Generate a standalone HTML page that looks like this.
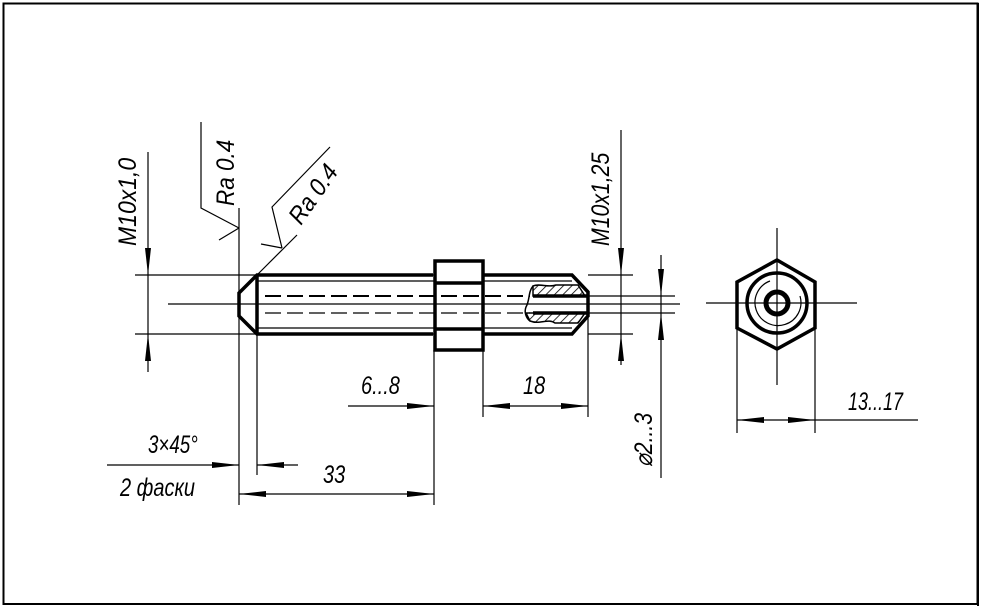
<!DOCTYPE html>
<html><head><meta charset="utf-8"><style>
html,body{margin:0;padding:0;background:#fff}
svg{display:block}
text{font-family:"Liberation Sans",sans-serif;font-style:italic;fill:#000}
</style></head><body>
<svg width="981" height="609" viewBox="0 0 981 609" xmlns="http://www.w3.org/2000/svg">
<defs>
<pattern id="h" patternUnits="userSpaceOnUse" width="6" height="6" patternTransform="rotate(45)">
<line x1="0" y1="0" x2="0" y2="6" stroke="#000" stroke-width="1.6"/>
</pattern>
</defs>
<rect x="3.5" y="3.5" width="974" height="600.5" fill="none" stroke="#000" stroke-width="2"/>
<rect x="977" y="3" width="2" height="603" fill="#000"/>
<rect x="3" y="603" width="976" height="2" fill="#000"/>

<g stroke="#000" fill="none">
<g stroke-width="1.2">
<line x1="135" y1="275" x2="434" y2="275"/>
<line x1="135" y1="334" x2="434" y2="334"/>
<line x1="168" y1="304" x2="680" y2="304"/>
<line x1="257" y1="281" x2="434" y2="281"/>
<line x1="257" y1="328" x2="434" y2="328"/>
<line x1="483" y1="281" x2="572" y2="281"/>
<line x1="483" y1="328" x2="572" y2="328"/>
<line x1="588" y1="275" x2="633" y2="275"/>
<line x1="588" y1="334" x2="633" y2="334"/>
<line x1="588" y1="296" x2="675" y2="296"/>
<line x1="588" y1="313" x2="675" y2="313"/>
<line x1="148" y1="152" x2="148" y2="372"/>
<line x1="621" y1="130" x2="621" y2="365"/>
<line x1="661" y1="255" x2="661" y2="478"/>
<line x1="239" y1="208" x2="239" y2="505"/>
<line x1="257" y1="334" x2="257" y2="475"/>
<line x1="434" y1="350" x2="434" y2="505"/>
<line x1="483" y1="350" x2="483" y2="417"/>
<line x1="588" y1="318" x2="588" y2="417"/>
<polyline points="201,122 201,208 239,228"/>
<line x1="219" y1="240" x2="239" y2="228"/>
<polyline points="330,147 272,207 282,248"/>
<line x1="261" y1="244" x2="282" y2="248"/>
<line x1="257" y1="275" x2="297" y2="235"/>
<line x1="348" y1="406" x2="434" y2="406"/>
<line x1="483" y1="406" x2="588" y2="406"/>
<line x1="107" y1="465" x2="239" y2="465"/>
<line x1="257" y1="465" x2="298" y2="465"/>
<line x1="239" y1="494" x2="434" y2="494"/>
<line x1="706" y1="303" x2="857" y2="303"/>
<line x1="777" y1="228" x2="777" y2="385"/>
<line x1="737" y1="328" x2="737" y2="433"/>
<line x1="815" y1="328" x2="815" y2="433"/>
<line x1="737" y1="420" x2="918" y2="420"/>
<path d="M 800 296 A 23 23 0 1 1 770 281"/>
</g>
<line x1="265" y1="296" x2="530" y2="296" stroke-width="2" stroke-dasharray="16,6"/>
<line x1="265" y1="313" x2="530" y2="313" stroke-width="1.2" stroke-dasharray="16,6"/>
<g stroke-width="3.5">
<polyline points="433,275 257,275 239,293 239,316 257,334 433,334"/>
<line x1="257" y1="275" x2="257" y2="334"/>
<rect x="435" y="261" width="48" height="89"/>
<line x1="435" y1="283" x2="483" y2="283"/>
<line x1="435" y1="329" x2="483" y2="329"/>
<polyline points="483,275 572,275 588,292 588,316 572,334 483,334"/>
<line x1="533" y1="296" x2="588" y2="296"/>
<line x1="533" y1="313" x2="588" y2="313"/>
<polygon points="737,282 777,260 815,282 815,328 777,349 737,328"/>
<circle cx="777" cy="303" r="30"/>
<circle cx="777" cy="303" r="11" stroke-width="5"/>
</g>
</g>
<path d="M533,286 C540,283 548,288 556,285 L578,285 L585,296 L533,296 Z" fill="url(#h)" stroke="#000" stroke-width="1.5"/>
<path d="M526,313 L585,313 L578,323 L555,323 C548,318 540,325 530,321 Z" fill="url(#h)" stroke="#000" stroke-width="1.5"/>
<path d="M533,286 C528,292 530,300 526,307 C524,312 526,318 530,321" fill="none" stroke="#000" stroke-width="1.5"/>

<g fill="#000">
<polygon points="148,275 145,248 151,248"/>
<polygon points="148,334 145,361 151,361"/>
<polygon points="621,275 618,248 624,248"/>
<polygon points="621,334 618,361 624,361"/>
<polygon points="661,296 658,269 664,269"/>
<polygon points="661,313 658,340 664,340"/>
<polygon points="434,406 407,403 407,409"/>
<polygon points="483,406 510,403 510,409"/>
<polygon points="588,406 561,403 561,409"/>
<polygon points="239,465 212,462 212,468"/>
<polygon points="257,465 284,462 284,468"/>
<polygon points="239,494 266,491 266,497"/>
<polygon points="434,494 407,491 407,497"/>
<polygon points="737,420 764,417 764,423"/>
<polygon points="815,420 788,417 788,423"/>
</g>

<g font-size="25">
<text transform="translate(136,246) rotate(-90) scale(0.92,1)">M10x1,0</text>
<text transform="translate(234,206) rotate(-90) scale(0.9,1)">Ra 0.4</text>
<text transform="translate(301,226) rotate(-55) scale(0.9,1)">Ra 0.4</text>
<text transform="translate(609,246) rotate(-90) scale(0.85,1)">M10x1,25</text>
<text transform="translate(652,467) rotate(-90) scale(0.85,1)">⌀2...3</text>
<text transform="translate(361,394) scale(0.8,1)">6...8</text>
<text transform="translate(523,394) scale(0.8,1)">18</text>
<text transform="translate(148,453) scale(0.75,1)">3×45°</text>
<text transform="translate(120,496) scale(0.8,1)">2 фаски</text>
<text transform="translate(323,483) scale(0.8,1)">33</text>
<text transform="translate(848,410) scale(0.72,1)">13...17</text>
</g>
</svg>
</body></html>
